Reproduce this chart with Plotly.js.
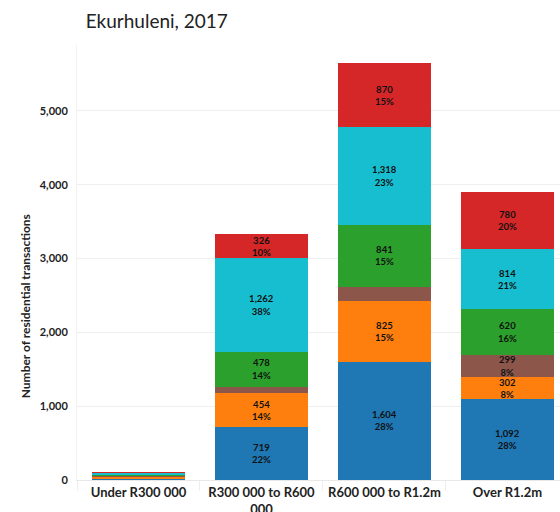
<!DOCTYPE html>
<html>
<head>
<meta charset="utf-8">
<script src="https://cdn.plot.ly/plotly-3.0.1.min.js"></script>
<style>html,body{margin:0;padding:0;background:#fff;}#chart{width:560px;height:512px;}</style>
</head>
<body>
<div id="chart"></div>
<script>
var categories = ["Under R300 000", "R300 000 to R600<br>000", "R600 000 to R1.2m", "Over R1.2m"];

var seriesNames = ["Blue", "Orange", "Brown", "Green", "Cyan", "Red"];
var seriesColors = ["#1f77b4", "#ff7f0e", "#8c564b", "#2ca02c", "#17becf", "#d62728"];

var blueVals   = [20, 719, 1604, 1092];
var orangeVals = [15, 454, 825, 302];
var brownVals  = [15, 90, 190, 299];
var greenVals  = [20, 478, 841, 620];
var cyanVals   = [25, 1262, 1318, 814];
var redVals    = [15, 326, 870, 780];

var bluePct   = ["", "22%", "28%", "28%"];
var orangePct = ["", "14%", "15%", "8%"];
var brownPct  = ["", "", "", "8%"];
var greenPct  = ["", "14%", "15%", "16%"];
var cyanPct   = ["", "38%", "23%", "21%"];
var redPct    = ["", "10%", "15%", "20%"];

var allVals = [blueVals, orangeVals, brownVals, greenVals, cyanVals, redVals];
var allPct = [bluePct, orangePct, brownPct, greenPct, cyanPct, redPct];

function fmt(v) { return v.toLocaleString('en-US'); }

var traces = allVals.map(function (vals, i) {
  var txt = vals.map(function (v, j) {
    return allPct[i][j] ? fmt(v) + "<br>" + allPct[i][j] : "";
  });
  return {
    type: "bar",
    name: seriesNames[i],
    x: categories,
    y: vals,
    marker: { color: seriesColors[i], line: { width: 0 } },
    text: txt,
    textposition: "inside",
    insidetextanchor: "middle",
    textangle: 0,
    constraintext: "none",
    textfont: { family: "Lato, sans-serif", size: 9.5, color: "#111", weight: "bold" },
    hoverinfo: "skip"
  };
});

var layout = {
  width: 560,
  height: 512,
  barmode: "stack",
  bargap: 0.25,
  showlegend: false,
  paper_bgcolor: "#fff",
  plot_bgcolor: "#fff",
  margin: { l: 77, r: 0, t: 45, b: 32 },
  title: {
    text: "Ekurhuleni, 2017",
    x: 0.018, xanchor: "left", xref: "paper",
    y: 0.959, yanchor: "middle", yref: "container",
    font: { family: "Lato, sans-serif", size: 19, color: "#222" }
  },
  xaxis: {
    type: "category",
    range: [-0.5, 3.427],
    showgrid: false,
    showline: true,
    linecolor: "#e8e8e8",
    linewidth: 1,
    ticks: "outside",
    tickson: "boundaries",
    ticklen: 10,
    tickcolor: "#eeeeee",
    tickfont: { family: "Lato, sans-serif", size: 13, color: "#222", weight: "bold" },
    automargin: false
  },
  yaxis: {
    range: [0, 5894],
    tickvals: [0, 1000, 2000, 3000, 4000, 5000],
    ticktext: ["0", "1,000", "2,000", "3,000", "4,000", "5,000"],
    showgrid: true,
    gridcolor: "#efefef",
    zeroline: false,
    showline: true,
    linecolor: "#f2f2f2",
    ticks: "",
    ticklabelstandoff: 6,
    tickfont: { family: "Lato, sans-serif", size: 11, color: "#222", weight: "bold" },
    automargin: false
  },
  annotations: [{
    text: "Number of residential transactions",
    xref: "paper", yref: "paper",
    x: -0.107, y: 0.4,
    xanchor: "center", yanchor: "middle",
    textangle: -90,
    showarrow: false,
    font: { family: "Lato, sans-serif", size: 12, color: "#222", weight: "bold" }
  }]
};

Plotly.newPlot("chart", traces, layout, { displayModeBar: false, staticPlot: true });
</script>
</body>
</html>
